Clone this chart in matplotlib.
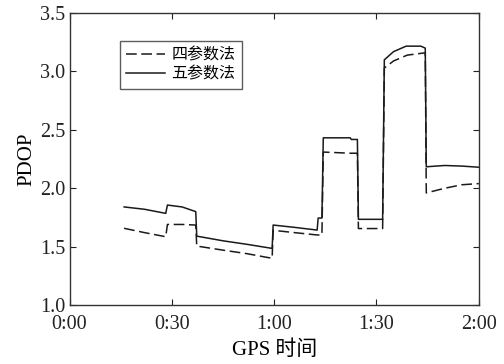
import matplotlib
matplotlib.use("Agg")
import matplotlib.pyplot as plt
from matplotlib.ticker import FixedLocator

plt.rcParams['font.family'] = ['Liberation Serif', 'Noto Sans CJK SC']
plt.rcParams['axes.unicode_minus'] = False

# time in minutes, PDOP values (five-parameter method, solid)
t_five = [16.0, 22.0, 28.2, 28.7, 33.0, 37.0, 37.3, 45.0, 52.0, 59.4, 59.7, 66.0, 72.6, 72.9, 74.0, 74.4,
          82.3, 82.6, 84.4, 84.7, 91.8, 92.3, 95.0, 98.7, 103.0, 104.3, 104.6, 110.0, 115.0, 120.0]
v_five = [1.84, 1.82, 1.785, 1.856, 1.84, 1.80, 1.59, 1.55, 1.52, 1.485, 1.685, 1.665, 1.642, 1.745, 1.745, 2.432,
          2.432, 2.418, 2.418, 1.734, 1.734, 3.10, 3.17, 3.217, 3.217, 3.20, 2.184, 2.195, 2.19, 2.18]

# four-parameter method, dashed
t_four = [16.0, 22.0, 28.2, 28.7, 33.0, 37.0, 37.3, 45.0, 52.0, 59.4, 59.7, 66.0, 72.6, 74.0, 74.4,
          82.3, 84.4, 84.7, 91.8, 92.3, 95.0, 99.0, 104.3, 104.6, 110.0, 115.0, 120.0]
v_four = [1.657, 1.62, 1.585, 1.69, 1.69, 1.685, 1.505, 1.47, 1.44, 1.40, 1.64, 1.62, 1.60, 1.60, 2.31,
          2.30, 2.30, 1.655, 1.655, 3.03, 3.09, 3.14, 3.16, 1.96, 2.0, 2.03, 2.04]

xticks = [0, 30, 60, 90, 120]
xtick_labels = ["0:00", "0:30", "1:00", "1:30", "2:00"]
yticks = [1.0, 1.5, 2.0, 2.5, 3.0, 3.5]
ytick_labels = ["1.0", "1.5", "2.0", "2.5", "3.0", "3.5"]

fig = plt.figure(figsize=(5.04, 3.64), dpi=100)
ax = fig.add_axes([0.138, 0.162, 0.812, 0.802])

c = '#1a1a1a'
ax.plot(t_four, v_four, color=c, lw=1.1, ls=(0, (7, 3)), label='四参数法')
ax.plot(t_five, v_five, color=c, lw=1.1, ls='-', label='五参数法')

ax.set_xlim(0, 120)
ax.set_ylim(1.0, 3.5)
ax.xaxis.set_major_locator(FixedLocator(xticks))
ax.set_xticklabels(xtick_labels)
ax.yaxis.set_major_locator(FixedLocator(yticks))
ax.set_yticklabels(ytick_labels)
ax.tick_params(direction='in', length=4, width=0.8, top=True, right=True,
               labelsize=14.5, colors='#222222')
ax.tick_params(axis='x', pad=7.5)
ax.tick_params(axis='y', pad=3)
for s in ax.spines.values():
    s.set_color('#333333')
    s.set_linewidth(1.0)

ax.set_xlabel('GPS 时间', fontsize=15, labelpad=4)
ax.set_ylabel('PDOP', fontsize=15, labelpad=3)

leg = ax.legend(loc='upper left', bbox_to_anchor=(120/504, 1 - 41/364), bbox_transform=fig.transFigure,
                fontsize=11.5, frameon=True, fancybox=False, handlelength=2.4, handletextpad=0.4,
                borderpad=0.4, labelspacing=0.2, borderaxespad=0)
leg.get_frame().set_edgecolor('#333333')
leg.get_frame().set_linewidth(1.0)

fig.savefig('out.png', dpi=100)
